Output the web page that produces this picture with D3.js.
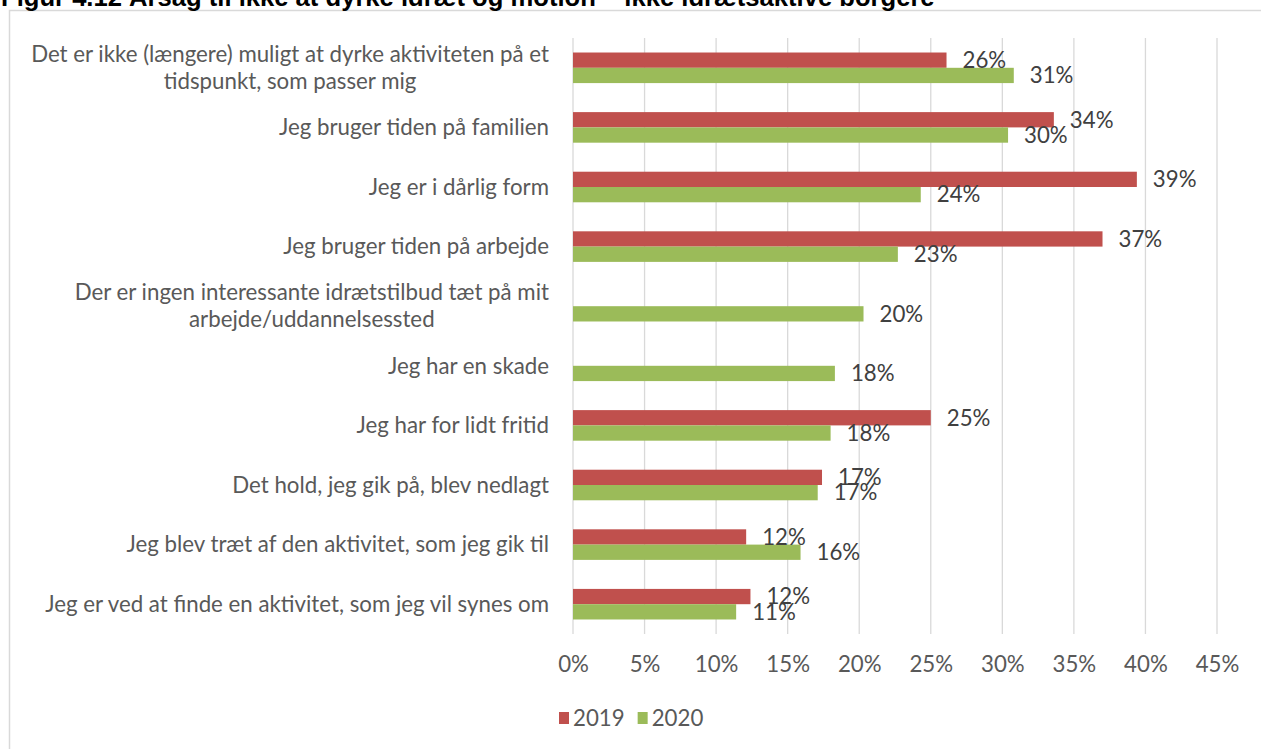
<!DOCTYPE html>
<html>
<head>
<meta charset="utf-8">
<script src="https://cdn.jsdelivr.net/npm/d3@7"></script>
<style>
  html, body { margin: 0; padding: 0; background: #fff; overflow: hidden; }
  svg { display: block; }
</style>
</head>
<body>
<svg id="chart" width="1261" height="749"></svg>
<script>
// ── Data ────────────────────────────────────────────────────────────────────
const title = "Figur 4.12 Årsag til ikke at dyrke idræt og motion – ikke idrætsaktive borgere";

const categories = [
  ["Det er ikke (længere) muligt at dyrke aktiviteten på et", "tidspunkt, som passer mig"],
  ["Jeg bruger tiden på familien"],
  ["Jeg er i dårlig form"],
  ["Jeg bruger tiden på arbejde"],
  ["Der er ingen interessante idrætstilbud tæt på mit", "arbejde/uddannelsessted"],
  ["Jeg har en skade"],
  ["Jeg har for lidt fritid"],
  ["Det hold, jeg gik på, blev nedlagt"],
  ["Jeg blev træt af den aktivitet, som jeg gik til"],
  ["Jeg er ved at finde en aktivitet, som jeg vil synes om"]
];

const seriesNames = ["2019", "2020"];
const values2019 = [26.1, 33.6, 39.4, 37.0, null, null, 25.0, 17.4, 12.1, 12.4];
const values2020 = [30.8, 30.4, 24.3, 22.7, 20.3, 18.3, 18.0, 17.1, 15.9, 11.4];
const xTicks = [0, 5, 10, 15, 20, 25, 30, 35, 40, 45];

const COLORS = { "2019": "#C0504D", "2020": "#9BBB59" };
const FONT = "Lato, 'Open Sans', sans-serif";

// ── Layout ──────────────────────────────────────────────────────────────────
const svg = d3.select("#chart");
const plot = { left: 573, right: 1217, top: 38, bottom: 634 };

// fit a font size so a string gets a target pixel width
function fitSize(text, target, weight, family) {
  const t = svg.append("text")
    .attr("font-family", family).attr("font-weight", weight || "normal")
    .attr("font-size", 100).text(text);
  const w = t.node().getComputedTextLength();
  t.remove();
  return 100 * target / w;
}

const labelSize = fitSize(categories[9][0], 504, "normal", FONT);
const titleSize = fitSize(title, 934, "bold", "'Liberation Sans', Arial, sans-serif");

// frame
svg.append("rect")
  .attr("x", 9.5).attr("y", 10.5)
  .attr("width", 1400).attr("height", 900)
  .attr("fill", "none").attr("stroke", "#d9d9d9").attr("stroke-width", 1.5);

// title (cut off by top of page, as in the source)
svg.append("text")
  .attr("x", 1).attr("y", 6)
  .attr("font-family", "'Liberation Sans', Arial, sans-serif")
  .attr("font-weight", "bold")
  .attr("font-size", titleSize)
  .attr("fill", "#000")
  .text(title);

const x = d3.scaleLinear().domain([0, 45]).range([plot.left, plot.right]);
const y = d3.scaleBand()
  .domain(d3.range(categories.length))
  .range([plot.top, plot.bottom])
  .paddingInner(0.487).paddingOuter(0.2435);
const ySub = d3.scaleBand().domain(seriesNames).range([0, y.bandwidth()]);

// gridlines
svg.append("g").selectAll("line").data(xTicks).join("line")
  .attr("x1", d => x(d)).attr("x2", d => x(d))
  .attr("y1", plot.top).attr("y2", plot.bottom)
  .attr("stroke", "#d9d9d9").attr("stroke-width", 1.3);

// tick labels
const xAxis = svg.append("g")
  .attr("transform", `translate(0,${plot.bottom})`)
  .call(d3.axisBottom(x).tickValues(xTicks).tickFormat(d => d + "%").tickSize(0).tickPadding(22));
xAxis.select(".domain").remove();
xAxis.selectAll("text")
  .attr("font-family", FONT).attr("font-size", labelSize).attr("fill", "#595959");

// bars
const rows = categories.map((c, i) => ({ i: i, "2019": values2019[i], "2020": values2020[i] }));
const bars = [];
rows.forEach(r => seriesNames.forEach(s => {
  if (r[s] !== null) bars.push({ i: r.i, s: s, v: r[s] });
}));

svg.append("g").selectAll("rect").data(bars).join("rect")
  .attr("x", x(0))
  .attr("y", d => y(d.i) + ySub(d.s))
  .attr("width", d => x(d.v) - x(0))
  .attr("height", ySub.bandwidth())
  .attr("fill", d => COLORS[d.s]);

// data labels
svg.append("g").selectAll("text").data(bars).join("text")
  .attr("x", d => x(d.v) + 16)
  .attr("y", d => y(d.i) + ySub(d.s) + ySub.bandwidth() / 2)
  .attr("dy", "0.35em")
  .attr("font-family", FONT).attr("font-size", labelSize)
  .attr("fill", "#404040")
  .text(d => Math.round(d.v) + "%");

// category labels
const catG = svg.append("g");
categories.forEach((lines, i) => {
  const cy = y(i) + y.bandwidth() / 2;
  const lh = 27;
  const t = catG.append("text")
    .attr("font-family", FONT).attr("font-size", labelSize)
    .attr("fill", "#595959").attr("text-anchor", "middle");
  lines.forEach((ln, k) => {
    t.append("tspan").attr("x", 0)
      .attr("y", cy + (k - (lines.length - 1) / 2) * lh)
      .attr("dy", "0.35em").text(ln);
  });
  const w = d3.max(t.selectAll("tspan").nodes(), n => n.getComputedTextLength());
  t.selectAll("tspan").attr("x", 549 - w / 2);
});

// legend
const legend = svg.append("g").attr("transform", "translate(559,718)");
let lx = 0;
seriesNames.forEach(s => {
  const g = legend.append("g").attr("transform", `translate(${lx},0)`);
  g.append("rect").attr("x", 0).attr("y", -6).attr("width", 10).attr("height", 12)
    .attr("fill", COLORS[s]);
  const t = g.append("text").attr("x", 14).attr("y", 0).attr("dy", "0.35em")
    .attr("font-family", FONT).attr("font-size", labelSize).attr("fill", "#595959")
    .text(s);
  lx += 14 + t.node().getComputedTextLength() + 13;
});
</script>
</body>
</html>
